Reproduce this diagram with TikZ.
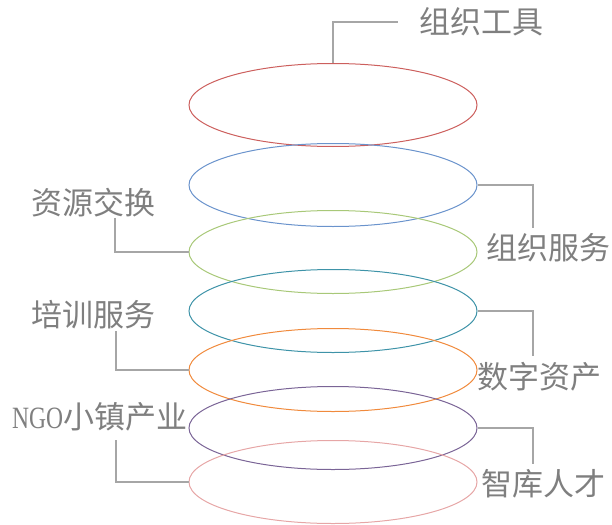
\documentclass[tikz,border=0pt]{standalone}
\usepackage{fontspec}
\usepackage{graphicx}
\usepackage{xcolor}
\usetikzlibrary{shapes.geometric, positioning}
\newfontfamily\cjk{Noto Sans CJK SC}
\newfontfamily\latin{Liberation Serif}
\definecolor{ringRed}{HTML}{CC5F5D}
\definecolor{ringBlue}{HTML}{6A93CC}
\definecolor{ringGreen}{HTML}{A8C878}
\definecolor{ringTeal}{HTML}{3E93A8}
\definecolor{ringOrange}{HTML}{F08A3C}
\definecolor{ringPurple}{HTML}{7A6496}
\definecolor{ringPink}{HTML}{E6A6A6}
\definecolor{tagGray}{HTML}{7F7F7F}
\definecolor{linkGray}{HTML}{A6A6A6}

\begin{document}
\begin{tikzpicture}[x=1pt, y=1pt, node distance=60pt, on grid,
    ring/.style={ellipse, draw, line width=1pt, minimum width=288pt, minimum height=83pt, inner sep=0pt},
    tag/.style={font=\cjk\fontsize{31}{36}\selectfont, text=tagGray, inner sep=0pt, anchor=west},
    link/.style={draw=linkGray, line width=1.2pt}]

        \useasboundingbox (0,0) rectangle (612,-524);

        % stacked rings
        \node[ring, draw=ringRed] (tools) at (333,-105) {};
        \node[ring, draw=ringBlue, below=80pt of tools] (orgserv) {};
        \node[ring, draw=ringGreen, below=67pt of orgserv] (exchange) {};
        \node[ring, draw=ringTeal, below=59pt of exchange] (digital) {};
        \node[ring, draw=ringOrange, below=59pt of digital] (training) {};
        \node[ring, draw=ringPurple, below=58pt of training] (town) {};
        \node[ring, draw=ringPink, below=54pt of town] (talent) {};

        % labels
        \node[tag] (toolsT) at (419,-22) {组织工具};
        \node[tag] (orgservT) at (486,-248) {组织服务};
        \node[tag] (exchangeT) at (31,-203) {资源交换};
        \node[tag] (digitalT) at (477,-377) {数字资产};
        \node[tag] (trainingT) at (31,-315) {培训服务};
        \node[tag] (townT) at (12,-417) {\scalebox{0.76}[1]{\latin NGO}小镇产业};
        \node[tag] (talentT) at (481,-484) {智库人才};

        % free ends of the connectors
        \coordinate (toolsC) at (398,-22);
        \coordinate (orgservC) at (533,-228);
        \coordinate (exchangeC) at (115,-218);
        \coordinate (digitalC) at (533,-356);
        \coordinate (trainingC) at (116,-331);
        \coordinate (townC) at (116,-440);
        \coordinate (talentC) at (533,-464);

        \draw[link] (tools.north) |- (toolsC);
        \draw[link] (orgserv.east) -| (orgservC);
        \draw[link] (exchangeC) |- (exchange.west);
        \draw[link] (digital.east) -| (digitalC);
        \draw[link] (trainingC) |- (training.west);
        \draw[link] (town.east) -| (talentC);
        \draw[link] (townC) |- (talent.west);

    \end{tikzpicture}
\end{document}
